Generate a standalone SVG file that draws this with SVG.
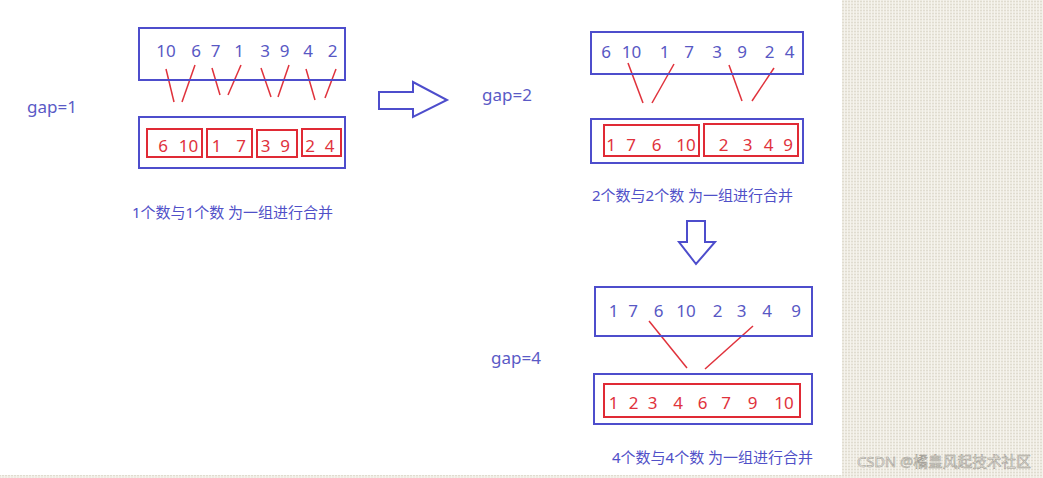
<svg xmlns="http://www.w3.org/2000/svg" width="1043" height="478" viewBox="0 0 1043 478">
<defs>
<pattern id="canvas" width="6" height="6" patternUnits="userSpaceOnUse">
<rect width="6" height="6" fill="#eeebe2"/>
<path d="M0 1.5H6M0 4.5H6" stroke="#e0dcd0" stroke-width="1"/>
<path d="M1.5 0V6M4.5 0V6" stroke="#f5f3ed" stroke-width="1"/>
</pattern>
<style>
.bbox{fill:none;stroke:#4d4dcc;stroke-width:2}
.rbox{fill:none;stroke:#e02a35;stroke-width:2}
.bn{font-family:"Noto Sans","Open Sans",sans-serif;font-size:17px;fill:#5858c4;text-anchor:middle}
.rn{font-family:"Noto Sans","Open Sans",sans-serif;font-size:17px;fill:#e0323c;text-anchor:middle}
.lbl{font-family:"Noto Sans","Open Sans",sans-serif;font-size:17px;fill:#5a5ac6}
.cap{font-family:"Noto Sans","Noto Sans CJK SC",sans-serif;font-size:15px;fill:#5050c8}
.rl{stroke:#e0323c;stroke-width:1.5;fill:none}
.arr{fill:#fff;stroke:#4d4dcc;stroke-width:2;stroke-linejoin:miter}
.wm{font-family:"Noto Sans","Noto Sans CJK SC",sans-serif;font-size:15px;fill:#ebe8e1;stroke:#9a978f;stroke-width:0.5}
</style>
</defs>
<rect width="1043" height="478" fill="#ffffff"/>
<rect x="842" y="0" width="201" height="478" fill="url(#canvas)"/>
<rect x="0" y="475" width="1043" height="3" fill="url(#canvas)"/>

<g id="connectors">
<line class="rl" x1="166" y1="69" x2="174" y2="102"/>
<line class="rl" x1="195" y1="65" x2="182" y2="102"/>
<line class="rl" x1="212" y1="68" x2="220" y2="95"/>
<line class="rl" x1="241" y1="65" x2="228" y2="95"/>
<line class="rl" x1="261" y1="68" x2="271" y2="97"/>
<line class="rl" x1="289" y1="65" x2="278" y2="97"/>
<line class="rl" x1="306" y1="69" x2="315" y2="100"/>
<line class="rl" x1="336" y1="69" x2="325" y2="98"/>
<line class="rl" x1="628" y1="63" x2="643" y2="103"/>
<line class="rl" x1="674" y1="64" x2="652" y2="103"/>
<line class="rl" x1="729" y1="65" x2="742" y2="101"/>
<line class="rl" x1="774" y1="68" x2="752" y2="101"/>
<line class="rl" x1="649" y1="321" x2="687" y2="368"/>
<line class="rl" x1="753" y1="326" x2="705" y2="369"/>
<polygon class="arr" points="379,92 413,92 413,82 447,100 413,117 413,109 379,109"/>
<polygon class="arr" points="687,221 705,221 705,242 715,242 696,264 679,242 687,242"/>
</g>

<text class="lbl" x="27" y="113">gap=1</text>
<text class="lbl" x="482" y="101">gap=2</text>
<text class="lbl" x="491" y="364">gap=4</text>

<g id="n1-top">
<rect class="bbox" x="139" y="28" width="206" height="52"/>
<text class="bn" x="166" y="57">10</text><text class="bn" x="196" y="57">6</text><text class="bn" x="215.5" y="57">7</text><text class="bn" x="239" y="57">1</text><text class="bn" x="265" y="57">3</text><text class="bn" x="284.5" y="57">9</text><text class="bn" x="308" y="57">4</text><text class="bn" x="332.5" y="57">2</text>
</g>
<g id="n1-bottom">
<rect class="bbox" x="139" y="117" width="206" height="51"/>
<rect class="rbox" x="147" y="129" width="55" height="28"/>
<rect class="rbox" x="207" y="129" width="45" height="28"/>
<rect class="rbox" x="257" y="130" width="40" height="27"/>
<rect class="rbox" x="302" y="129" width="39" height="27"/>
<text class="rn" x="163" y="152">6</text><text class="rn" x="188.5" y="152">10</text><text class="rn" x="216.5" y="152">1</text><text class="rn" x="241" y="152">7</text><text class="rn" x="265.5" y="152">3</text><text class="rn" x="285" y="152">9</text><text class="rn" x="310" y="152">2</text><text class="rn" x="329.5" y="152">4</text>
</g>
<text class="cap" x="132" y="218">1个数与1个数 为一组进行合并</text>

<g id="n2-top">
<rect class="bbox" x="591" y="32" width="212" height="42"/>
<text class="bn" x="606" y="58">6</text><text class="bn" x="631.5" y="58">10</text><text class="bn" x="664.5" y="58">1</text><text class="bn" x="689" y="58">7</text><text class="bn" x="717" y="58">3</text><text class="bn" x="742" y="58">9</text><text class="bn" x="769.5" y="58">2</text><text class="bn" x="789.5" y="58">4</text>
</g>
<g id="n2-bottom">
<rect class="bbox" x="591" y="119" width="212" height="44"/>
<rect class="rbox" x="604" y="125" width="95" height="31"/>
<rect class="rbox" x="704" y="124" width="94" height="32"/>
<text class="rn" x="611" y="151">1</text><text class="rn" x="631" y="151">7</text><text class="rn" x="656.5" y="151">6</text><text class="rn" x="686" y="151">10</text><text class="rn" x="723.5" y="151">2</text><text class="rn" x="747.5" y="151">3</text><text class="rn" x="768.5" y="151">4</text><text class="rn" x="788" y="151">9</text>
</g>
<text class="cap" x="592" y="201">2个数与2个数 为一组进行合并</text>

<g id="n3-top">
<rect class="bbox" x="595" y="287" width="217" height="49"/>
<text class="bn" x="613.5" y="317">1</text><text class="bn" x="633" y="317">7</text><text class="bn" x="658.5" y="317">6</text><text class="bn" x="686" y="317">10</text><text class="bn" x="717.5" y="317">2</text><text class="bn" x="741.5" y="317">3</text><text class="bn" x="767" y="317">4</text><text class="bn" x="796" y="317">9</text>
</g>
<g id="n3-bottom">
<rect class="bbox" x="594" y="374" width="218" height="50"/>
<rect class="rbox" x="604" y="384" width="196" height="33"/>
<text class="rn" x="613.5" y="409">1</text><text class="rn" x="633.5" y="409">2</text><text class="rn" x="652.5" y="409">3</text><text class="rn" x="678" y="409">4</text><text class="rn" x="702.5" y="409">6</text><text class="rn" x="726" y="409">7</text><text class="rn" x="752.5" y="409">9</text><text class="rn" x="784" y="409">10</text>
</g>
<text class="cap" x="612" y="463">4个数与4个数 为一组进行合并</text>

<text class="wm" x="857" y="467" textLength="174" lengthAdjust="spacingAndGlyphs">CSDN @橘皇风起技术社区</text>
</svg>
